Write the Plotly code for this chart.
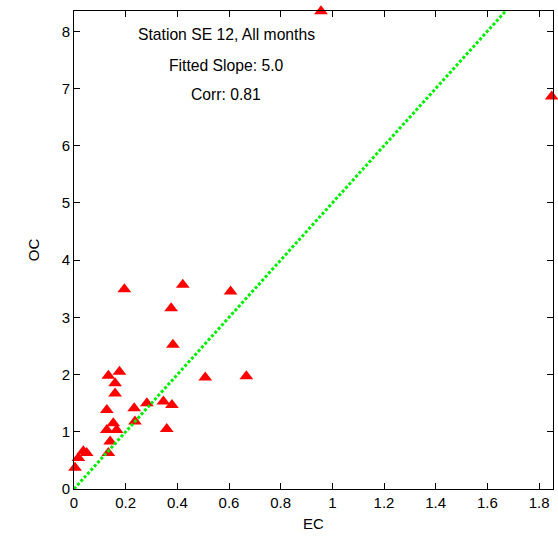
import plotly.graph_objects as go

# Data
ec = [0.004, 0.017, 0.036, 0.049, 0.133, 0.140, 0.127, 0.152, 0.165, 0.127,
      0.133, 0.176, 0.159, 0.159, 0.236, 0.233, 0.282, 0.346, 0.379, 0.359,
      0.383, 0.508, 0.667, 0.195, 0.421, 0.606, 0.376, 0.956, 1.849]
oc = [0.37, 0.54, 0.66, 0.63, 0.63, 0.83, 1.03, 1.15, 1.03, 1.38,
      1.98, 2.05, 1.85, 1.67, 1.18, 1.41, 1.50, 1.53, 1.47, 1.05,
      2.52, 1.95, 1.97, 3.49, 3.57, 3.45, 3.16, 8.35, 6.86]

fitted_slope = 5.0
corr = 0.81
station = "SE 12"

x_range = [0, 1.854]
y_range = [0, 8.354]
x_ticks = [0, 0.2, 0.4, 0.6, 0.8, 1.0, 1.2, 1.4, 1.6, 1.8]
x_tick_labels = ["0", "0.2", "0.4", "0.6", "0.8", "1", "1.2", "1.4", "1.6", "1.8"]
y_ticks = [0, 1, 2, 3, 4, 5, 6, 7, 8]
y_tick_labels = ["0", "1", "2", "3", "4", "5", "6", "7", "8"]

fit_x = [0, 1.8]
fit_y = [fitted_slope * v for v in fit_x]

FONT = "Liberation Sans, Arial, sans-serif"

fig = go.Figure()
fig.add_trace(go.Scatter(
    x=ec, y=oc, mode="markers",
    marker=dict(symbol="triangle-up", size=12, color="#ff0000", line=dict(width=0)),
    cliponaxis=False, showlegend=False, hoverinfo="skip"))
fig.add_trace(go.Scatter(
    x=fit_x, y=fit_y, mode="lines",
    line=dict(color="#00ee00", width=3, dash="3px,2px"),
    showlegend=False, hoverinfo="skip"))

labels = [f"Station {station}, All months", f"Fitted Slope: {fitted_slope:.1f}", f"Corr: {corr:.2f}"]
label_y = [7.94, 7.41, 6.90]
for t, yy in zip(labels, label_y):
    fig.add_annotation(x=0.59, y=yy, xref="x", yref="y", text=t, showarrow=False,
                       font=dict(family=FONT, size=15.7, color="black"),
                       xanchor="center", yanchor="middle")

axis_common = dict(
    showgrid=False, zeroline=False, showline=True, linecolor="black", linewidth=1,
    mirror="ticks", ticks="inside", ticklen=6, tickcolor="black", tickwidth=1,
    tickfont=dict(family=FONT, size=15, color="black"),
)
fig.update_xaxes(range=x_range, tickvals=x_ticks, ticktext=x_tick_labels,
                 title=dict(text="EC", font=dict(family=FONT, size=15, color="black"), standoff=8),
                 **axis_common)
fig.update_yaxes(range=y_range, tickvals=y_ticks, ticktext=y_tick_labels,
                 title=dict(text="OC", font=dict(family=FONT, size=15, color="black"), standoff=18),
                 **axis_common)

fig.update_layout(
    width=558, height=537,
    margin=dict(l=74, r=5, t=11, b=48, autoexpand=False),
    paper_bgcolor="white", plot_bgcolor="white",
    font=dict(family=FONT, size=15, color="black"),
)
fig.write_html("out.html", config={"displayModeBar": False},
               post_script="document.body.style.margin='0';document.body.style.overflow='hidden';")
